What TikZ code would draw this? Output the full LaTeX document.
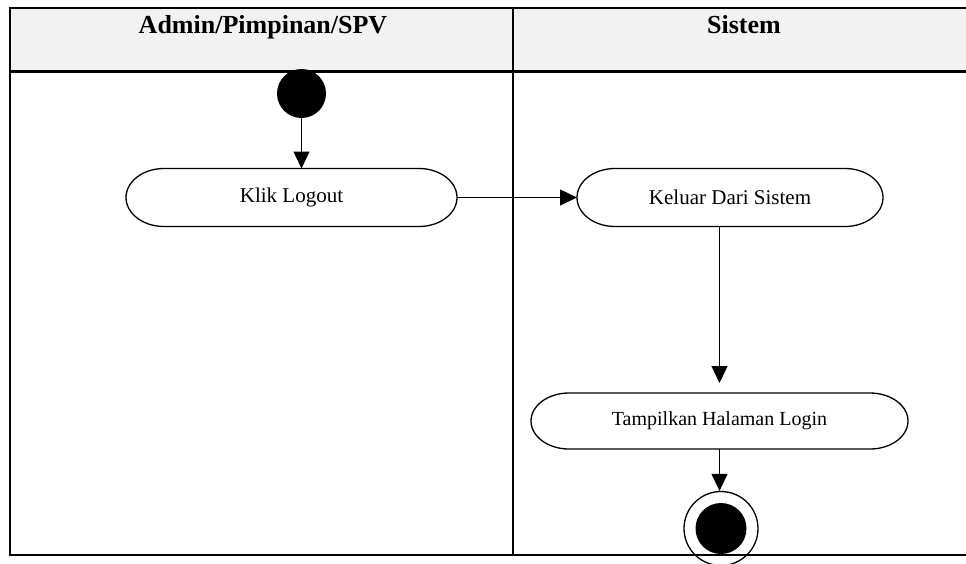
\documentclass[tikz,border=0pt]{standalone}
\usepackage{fontspec}
\setmainfont{Liberation Serif}
\usetikzlibrary{arrows.meta}

\definecolor{kepala}{HTML}{F2F2F2}

\tikzset{
    garis/.style={line width=1.3pt},
    panah/.style={garis, -{Triangle[width=16pt,length=17pt]}},
    aksi/.style={minimum height=58pt, inner sep=0pt, outer sep=0pt, font=\fontsize{21}{24}\selectfont},
    judul/.style={anchor=base, font=\bfseries\fontsize{26}{29}\selectfont},
    tabel/.style={line width=2.6pt},
}

% outline of an activity (flat top and bottom, elliptic ends)
\newcommand{\kotakaksi}[2]{%
    \draw[garis] ([xshift=38pt]#1.north west) -- ([xshift=-38pt]#1.north east)
        arc[start angle=90, end angle=-90, x radius=38pt, y radius=#2]
        -- ([xshift=38pt]#1.south west)
        arc[start angle=270, end angle=90, x radius=38pt, y radius=#2] -- cycle;
}

\begin{document}
\begin{tikzpicture}[x=1pt, y=1pt]
    \useasboundingbox (0,0) rectangle (966,-563);

    % Header of the swimlanes
    \fill[kepala] (10,-8) rectangle (966,-71);
    \node[judul] (lajur1) at (263,-33) {Admin/Pimpinan/SPV};
    \node[judul] (lajur2) at (744,-33) {Sistem};

    % Start node (left lane)
    \node[circle, fill=black, minimum size=49pt, inner sep=0pt] (mulai) at (301.5,-93.5) {};

    % Activities
    \node[aksi, minimum width=331pt] (klik) at (291.5,-197.5) {Klik Logout};
    \node[aksi, minimum width=306pt] (keluar) at (730,-197.5) {Keluar Dari Sistem};
    \node[aksi, minimum width=377pt, minimum height=56pt, font=\fontsize{20}{23}\selectfont] (tampil) at (719.5,-421) {Tampilkan Halaman Login};
    \kotakaksi{klik}{29pt}
    \kotakaksi{keluar}{29pt}
    \kotakaksi{tampil}{28pt}

    % End node (right lane)
    \node[circle, draw, garis, minimum size=74pt, inner sep=0pt] (selesai) at (721,-528.5) {};
    \node[circle, fill=black, minimum size=51pt, inner sep=0pt] (selesaiisi) at (selesai) {};

    % Flow
    \draw[panah] (mulai.south) -- (mulai.south |- klik.north);
    \draw[panah] (klik.east) -- (keluar.west);
    \draw[panah, shorten >=10pt] (tampil.north |- keluar.south) -- (tampil.north);
    \draw[panah] (tampil.south) -- (tampil.south |- selesai.north);

    % Table lines
    \draw[tabel] (8.7,-8) -- (966,-8);
    \draw[tabel] (10,-71.5) -- (966,-71.5);
    \draw[tabel] (10,-6.7) -- (10,-556.3);
    \draw[tabel] (8.7,-555) -- (966,-555);
    \draw[garis, line width=2pt] (512.5,-8) -- (512.5,-555);
\end{tikzpicture}
\end{document}
